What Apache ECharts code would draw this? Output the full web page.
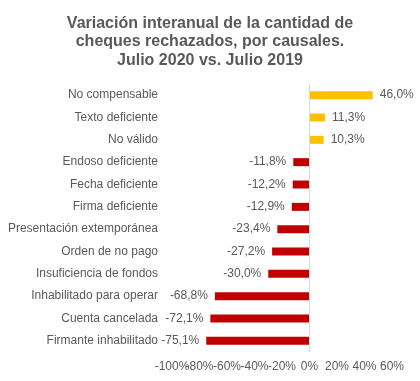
<!DOCTYPE html>
<html><head><meta charset="utf-8">
<script src="https://cdn.jsdelivr.net/npm/echarts@6/dist/echarts.min.js"></script>
<style>html,body{margin:0;padding:0;background:#fff}#c{width:420px;height:381px}</style>
</head><body><div id="c"></div>
<script>
const titleText = 'Variación interanual de la cantidad de\ncheques rechazados, por causales.\nJulio 2020 vs. Julio 2019';
const categories = ['No compensable','Texto deficiente','No válido','Endoso deficiente','Fecha deficiente','Firma deficiente','Presentación extemporánea','Orden de no pago','Insuficiencia de fondos','Inhabilitado para operar','Cuenta cancelada','Firmante inhabilitado'];
const values = [46.0, 11.3, 10.3, -11.8, -12.2, -12.9, -23.4, -27.2, -30.0, -68.8, -72.1, -75.1];
const axisMin = -100, axisMax = 60, axisStep = 20;

const font = 'Liberation Sans, Arial, sans-serif';
const txt = '#595959';
const fmt = v => v.toFixed(1).replace('.', ',') + '%';

// two overlaid value axes so that every tick label is drawn even where they touch
const mkX = (parity) => ({
  type: 'value', min: axisMin, max: axisMax, interval: axisStep, position: 'bottom', offset: 0,
  axisLine: {show: false}, axisTick: {show: false}, splitLine: {show: false},
  axisLabel: {fontFamily: font, fontSize: 12, color: txt, margin: 9, hideOverlap: false,
    showMinLabel: true, showMaxLabel: true,
    formatter: v => (Math.round((v - axisMin) / axisStep) % 2 === parity ? v + '%' : '')}
});

const chart = echarts.init(document.getElementById('c'), null, {renderer:'canvas'});
chart.setOption({
  animation: false,
  title: {
    text: titleText, left: 'center', top: 9,
    textStyle: {fontFamily: font, fontSize: 16, fontWeight: 'bold', color: txt, lineHeight: 18.5}
  },
  grid: {left: 172, right: 28, top: 84, bottom: 29, containLabel: false},
  xAxis: [mkX(0), mkX(1)],
  yAxis: {
    type: 'category', data: categories, inverse: true,
    axisLine: {show: false}, axisTick: {show: false},
    axisLabel: {fontFamily: font, fontSize: 12, color: txt, margin: 14}
  },
  series: [{
    type: 'bar', barWidth: 8, xAxisIndex: 0,
    data: values.map(v => ({
      value: v,
      itemStyle: {color: v >= 0 ? '#FFC000' : '#C00000'},
      label: {show: true, position: v >= 0 ? 'right' : 'left', distance: 7,
        formatter: () => fmt(v), fontFamily: font, fontSize: 12, color: txt}
    })),
    markLine: {
      silent: true, symbol: 'none', label: {show: false},
      lineStyle: {color: '#d9d9d9', type: 'solid', width: 1},
      data: [{xAxis: 0}]
    }
  }]
});
</script></body></html>
